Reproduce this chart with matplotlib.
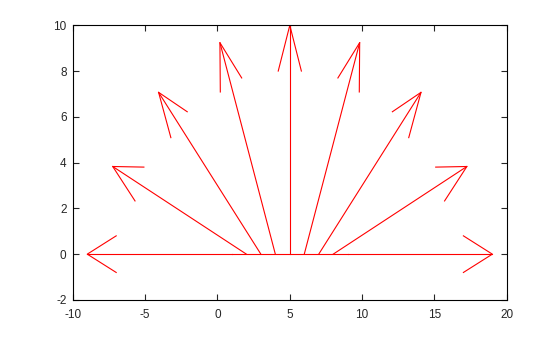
import numpy as np
import matplotlib
matplotlib.use("Agg")
import matplotlib.pyplot as plt

# feather plot: arrow bases on y=0 and their components (length 10 fan)
base_x = [1, 2, 3, 4, 5, 6, 7, 8, 9]
base_y = [0, 0, 0, 0, 0, 0, 0, 0, 0]
u = [-10, -9.24, -7.07, -3.83, 0, 3.83, 7.07, 9.24, 10]
v = [0, 3.83, 7.07, 9.24, 10, 9.24, 7.07, 3.83, 0]

x_ticks = [-10, -5, 0, 5, 10, 15, 20]
y_ticks = [-2, 0, 2, 4, 6, 8, 10]

plt.rcParams['font.family'] = ['Liberation Sans', 'DejaVu Sans']
plt.rcParams['axes.unicode_minus'] = False
fig = plt.figure(figsize=(5.6, 3.37), dpi=100)
ax = fig.add_axes([0.13, 0.11, 0.775, 0.815])

# baseline of the feather plot
ax.plot([min(base_x), max(base_x)], [0, 0], color='red', lw=0.8)

for x0, y0, du, dv in zip(base_x, base_y, u, v):
  tx, ty = x0 + du, y0 + dv
  # shaft
  ax.plot([x0, tx], [y0, ty], color='red', lw=0.8)
  # head, drawn in data units like octave quiver
  bx, by = tx - 0.2*du, ty - 0.2*dv
  px, py = -0.08*dv, 0.08*du
  ax.plot([bx + px, tx, bx - px], [by + py, ty, by - py], color='red', lw=0.8)

ax.set_xlim(-10, 20)
ax.set_ylim(-2, 10)
ax.set_xticks(x_ticks)
ax.set_yticks(y_ticks)
ax.tick_params(direction='in', length=4, width=0.8, labelsize=8.5, colors='#262626')
ax.tick_params(axis='x', pad=6.5)
ax.tick_params(axis='y', pad=4.5)
for s in ax.spines.values():
  s.set_linewidth(0.8)
ax.tick_params(top=True, right=True)

fig.savefig('out.png', dpi=100)
